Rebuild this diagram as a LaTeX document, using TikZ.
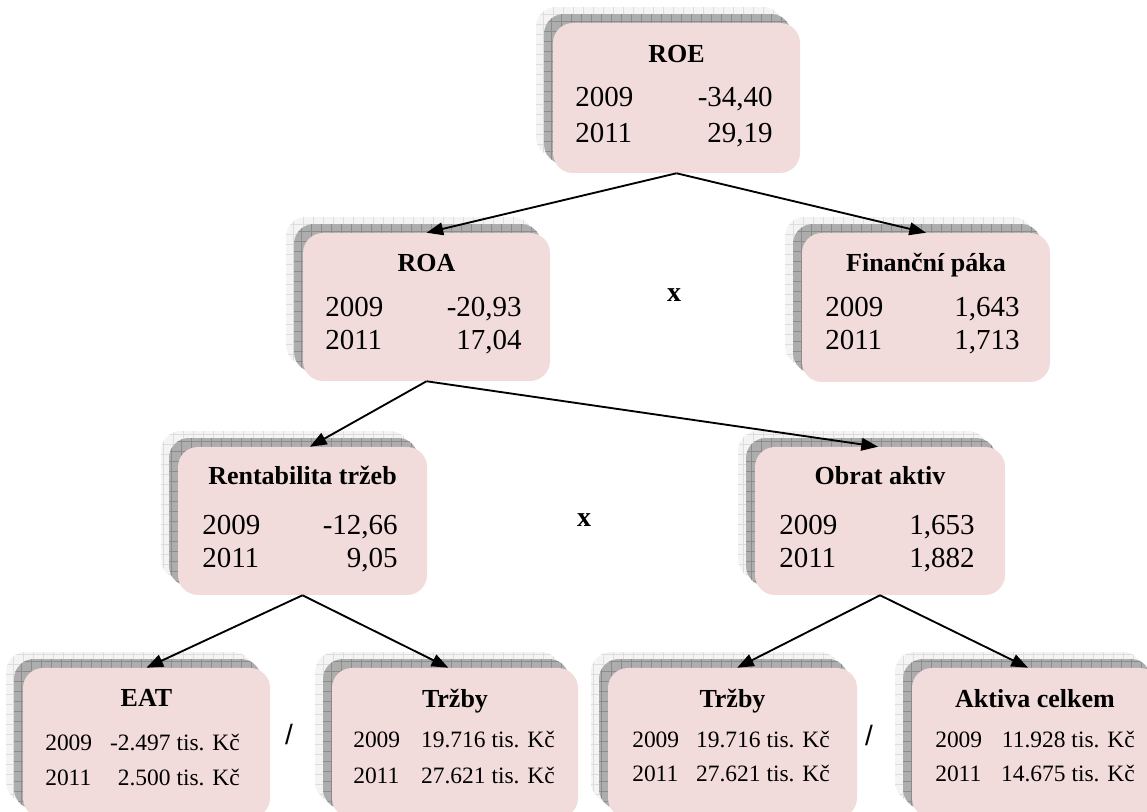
\documentclass[tikz,border=0pt]{standalone}
\usepackage{fontspec}
\setmainfont{Liberation Serif}
\newfontfamily\opsans{Liberation Sans}
\usetikzlibrary{arrows.meta,fit}

\definecolor{tilepink}{HTML}{F2DCDB}
\definecolor{layerlight}{HTML}{F4F4F4}
\definecolor{gridlight}{HTML}{DDDDDD}
\definecolor{layerdark}{HTML}{ADADAD}
\definecolor{griddark}{HTML}{8C8C8C}

\tikzset{
  tile/.style={fill=tilepink, draw=none, rounded corners=15pt, inner sep=0pt},
  head/.style={font=\fontsize{19.5}{22}\selectfont\bfseries, anchor=base, inner sep=0pt},
  bigval/.style={font=\fontsize{21.75}{24}\selectfont, inner sep=0pt},
  smallval/.style={font=\fontsize{17.6}{20}\selectfont, inner sep=0pt},
  link/.style={line width=1.4pt, -{Triangle[length=12.5pt,width=9.5pt]}},
  optimes/.style={font=\fontsize{21}{24}\selectfont\bfseries, inner sep=0pt},
  opdiv/.style={font=\opsans\fontsize{21}{24}\selectfont, inner sep=0pt},
}

% one patterned backing layer: left, top, right, bottom, fill, grid colour
\newcommand\tilelayer[6]{%
  \begin{scope}
    \clip[rounded corners=15pt] (#1,#2) rectangle (#3,#4);
    \fill[#5] (#1,#2) rectangle (#3,#4);
    \draw[#6, line width=0.6pt, step=7.5pt] (#1,#4) grid (#3,#2);
  \end{scope}}

% pink card with two stacked backing layers: name, left, top, right, bottom
\newcommand\ratiotile[5]{%
  \begin{scope}[shift={(-17,-16)}]\tilelayer{#2}{#3}{#4}{#5}{layerlight}{gridlight}\end{scope}
  \begin{scope}[shift={(-9,-9)}]\tilelayer{#2}{#3}{#4}{#5}{layerdark}{griddark}\end{scope}
  \node[tile, fit={(#2,#3) (#4,#5)}] (#1) {};}

% the two year rows: name, style, left x, right x, baseline 1, value 1, baseline 2, value 2
\newcommand\yearrows[8]{%
  \node[#2, anchor=base west] (#1-y1) at (#3,#5) {2009};
  \node[#2, anchor=base east] (#1-v1) at (#4,#5) {#6};
  \node[#2, anchor=base west] (#1-y2) at (#3,#7) {2011};
  \node[#2, anchor=base east] (#1-v2) at (#4,#7) {#8};}

\begin{document}
\begin{tikzpicture}[x=0.75pt, y=-0.75pt]
  \fill[white] (0,0) rectangle (1147,812);
  \clip (0,0) rectangle (1147,812);

  % cards
  \ratiotile{roe}{553}{23}{800}{173}
  \ratiotile{roa}{303}{233}{550}{381}
  \ratiotile{fin}{802}{233}{1050}{382}
  \ratiotile{rent}{178}{447}{427}{595}
  \ratiotile{obrat}{755}{447}{1005}{595}
  \ratiotile{eat}{23}{668}{270}{818}
  \ratiotile{trz}{332}{668}{578}{818}
  \ratiotile{trzb}{608}{668}{857}{818}
  \ratiotile{akt}{912}{668}{1160}{818}

  % titles
  \node[head] (roe-t) at (676.5,63) {ROE};
  \node[head] (roa-t) at (426.5,272) {ROA};
  \node[head] (fin-t) at (926,272) {Finanční páka};
  \node[head] (rent-t) at (302.5,485) {Rentabilita tržeb};
  \node[head] (obrat-t) at (880,485) {Obrat aktiv};
  \node[head] (eat-t) at (146.5,707) {EAT};
  \node[head] (trz-t) at (455,708) {Tržby};
  \node[head] (trzb-t) at (732.5,708) {Tržby};
  \node[head] (akt-t) at (1035,708) {Aktiva celkem};

  % figures
  \yearrows{roe}{bigval}{575}{773}{107}{-34,40}{143}{29,19}
  \yearrows{roa}{bigval}{325}{522}{317}{-20,93}{350}{17,04}
  \yearrows{fin}{bigval}{825}{1020}{317}{1,643}{350}{1,713}
  \yearrows{rent}{bigval}{202}{398}{535}{-12,66}{568}{9,05}
  \yearrows{obrat}{bigval}{779}{975}{535}{1,653}{568}{1,882}
  \yearrows{eat}{smallval}{45}{240}{751}{-2.497 tis. Kč}{786}{2.500 tis. Kč}
  \yearrows{trz}{smallval}{353}{555}{748}{19.716 tis. Kč}{783}{27.621 tis. Kč}
  \yearrows{trzb}{smallval}{632}{830}{748}{19.716 tis. Kč}{782}{27.621 tis. Kč}
  \yearrows{akt}{smallval}{935}{1135}{748}{11.928 tis. Kč}{782}{14.675 tis. Kč}

  % operators
  \node[optimes] (times1) at (674,295) {x};
  \node[optimes] (times2) at (584,520) {x};
  \node[opdiv] (div1) at (289,734) {/};
  \node[opdiv] (div2) at (869,735) {/};

  % decomposition links
  \draw[link] (roe.south) -- (roa.north);
  \draw[link] (roe.south) -- (fin.north);
  \draw[link] (roa.south) -- ([xshift=5.6pt]rent.north);
  \draw[link] (roa.south) -- ([xshift=-1.5pt]obrat.north);
  \draw[link] (rent.south) -- (eat.north);
  \draw[link] (rent.south) -- ([xshift=-5pt]trz.north);
  \draw[link] (obrat.south) -- ([xshift=3.5pt]trzb.north);
  \draw[link] (obrat.south) -- ([xshift=-6pt]akt.north);
\end{tikzpicture}
\end{document}
